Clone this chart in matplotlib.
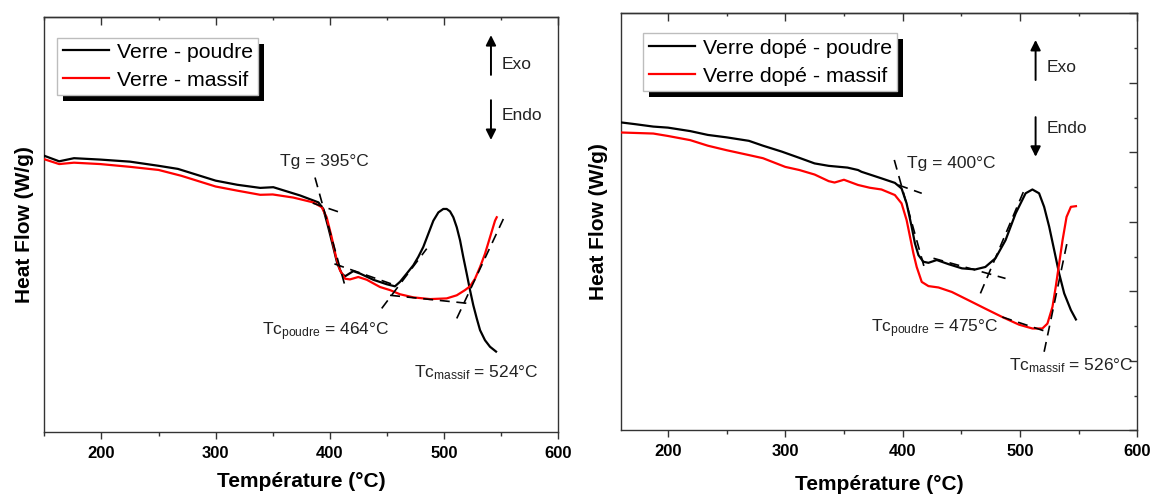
import matplotlib
matplotlib.use("Agg")
import matplotlib.pyplot as plt
from matplotlib.ticker import MultipleLocator, NullLocator
from matplotlib.patches import Rectangle
from matplotlib.transforms import IdentityTransform

plt.rcParams['font.family'] = ['Liberation Sans', 'DejaVu Sans']
plt.rcParams['mathtext.fontset'] = 'custom'
plt.rcParams['mathtext.rm'] = 'Liberation Sans'
plt.rcParams['mathtext.it'] = 'Liberation Sans:italic'

# ---------------- data: left panel (Verre) ----------------
left_T_poudre = [150, 163, 176, 199, 225, 250, 267, 300, 319, 339, 350.5, 374, 390, 394.3,
                 398.6, 403, 406.5, 410.4, 413.3, 420.5, 426.4, 438, 449.8, 457, 461.4,
                 467.3, 473.1, 477.4, 481.8, 486.2, 490.6, 495, 499.3, 502.3, 505.2, 508.1,
                 511.1, 514, 516.8, 519.8, 522.7, 525.6, 528.6, 531.5, 535.8, 540.2, 545.5]
left_HF_poudre = [7.99, 7.83, 7.92, 7.88, 7.82, 7.70, 7.61, 7.27, 7.15, 7.06, 7.08, 6.84, 6.64,
                  6.45, 5.92, 5.34, 4.87, 4.58, 4.50, 4.65, 4.58, 4.40, 4.27, 4.21, 4.34,
                  4.58, 4.82, 5.06, 5.35, 5.73, 6.11, 6.35, 6.45, 6.45, 6.38, 6.21,
                  5.92, 5.54, 5.06, 4.58, 4.10, 3.66, 3.28, 2.94, 2.65, 2.46, 2.32]
left_T_massif = [150, 163, 176, 199, 225, 250, 270, 300, 319, 339, 350, 368, 385.5, 392.9,
                 397.2, 401.6, 405.4, 408.9, 413.3, 417.6, 424.9, 432.3, 443.9, 452.7, 461.4,
                 473.1, 487.7, 502.3, 511.1, 518.3, 522.7, 527.1, 531.5, 535.8, 540.2,
                 544.6, 546.1]
left_HF_massif = [7.89, 7.75, 7.79, 7.75, 7.67, 7.58, 7.41, 7.10, 6.98, 6.86, 6.87, 6.78, 6.64,
                  6.50, 6.21, 5.63, 5.06, 4.67, 4.43, 4.41, 4.48, 4.40, 4.19, 4.10, 3.98,
                  3.89, 3.84, 3.86, 3.95, 4.10, 4.21, 4.43, 4.77, 5.15, 5.63,
                  6.11, 6.21]
# tangent construction lines: (T0, HF0, T1, HF1)
left_tangents = [(387.0, 7.36, 414.1, 4.12),
                 (385.0, 6.62, 409.0, 6.35),
                 (404.0, 4.86, 459.0, 4.22),
                 (445.4, 3.57, 484.8, 5.30),
                 (452.7, 3.95, 522.7, 3.71),
                 (511.1, 3.28, 551.9, 6.16)]
left_labels = ["Verre - poudre", "Verre - massif"]
left_notes = [("Tg = 395°C", 356.4, 7.69),
              (r"Tc$_{\mathrm{poudre}}$ = 464°C", 340.3, 2.80),
              (r"Tc$_{\mathrm{massif}}$ = 524°C", 473.7, 1.58)]

# ---------------- data: right panel (Verre dopé) ----------------
right_T_poudre = [160, 172, 187.5, 200, 219, 234, 250, 269, 281, 297, 312, 325, 337, 353, 362,
                  364.9, 382, 393.4, 399.1, 403.4, 407.7, 410.5, 413.5, 417.7, 422, 429.1,
                  439.2, 450.6, 462, 470.5, 479.1, 487.7, 496.3, 504.8, 510.6, 516.3, 520.6,
                  524.9, 529.2, 533.4, 537.7, 543.4, 547.7]
right_HF_poudre = [8.86, 8.81, 8.74, 8.71, 8.61, 8.50, 8.43, 8.33, 8.19, 8.02, 7.84, 7.68, 7.61,
                   7.56, 7.49, 7.44, 7.25, 7.12, 6.96, 6.53, 5.86, 5.38, 5.04, 4.85, 4.82, 4.90,
                   4.78, 4.66, 4.63, 4.70, 4.95, 5.47, 6.24, 6.82, 6.93, 6.82, 6.43,
                   5.86, 5.18, 4.51, 3.94, 3.46, 3.19]
right_T_massif = [160, 187.5, 200, 219, 234, 250, 269, 281, 300, 312, 325, 337, 342, 350, 362,
                  372, 382, 393.4, 399.1, 403.4, 406.3, 409.2, 412, 416.3, 422, 430.6, 442,
                  456.3, 470.5, 484.9, 499.2, 510.6, 519.1, 523.4, 527.7, 530.5, 533.4, 536.3,
                  539.7, 543.4, 547.7]
right_HF_massif = [8.57, 8.54, 8.47, 8.35, 8.19, 8.06, 7.92, 7.83, 7.58, 7.49, 7.36, 7.17, 7.13,
                   7.21, 7.06, 6.98, 6.93, 6.77, 6.53, 6.05, 5.57, 5.09, 4.70, 4.27, 4.15, 4.11,
                   3.98, 3.74, 3.50, 3.26, 3.04, 2.93, 2.93, 3.07, 3.55, 4.13, 4.80, 5.47,
                   6.14, 6.43, 6.45]
right_tangents = [(392.9, 7.78, 419.1, 4.61),
                  (396.3, 7.06, 416.3, 6.82),
                  (426.3, 4.95, 487.7, 4.37),
                  (466.3, 3.94, 504.8, 7.01),
                  (484.9, 3.26, 523.4, 2.83),
                  (520.6, 2.26, 540.6, 5.47)]
right_labels = ["Verre dopé - poudre", "Verre dopé - massif"]
right_notes = [("Tg = 400°C", 403.4, 7.54),
               (r"Tc$_{\mathrm{poudre}}$ = 475°C", 372.8, 2.83),
               (r"Tc$_{\mathrm{massif}}$ = 526°C", 490.6, 1.73)]

fig = plt.figure(figsize=(11.55, 4.94), dpi=100)
W, H = 1155, 494

def make_panel(rect, xlim, Tp, HFp, Tm, HFm, tangents, labels, notes,
               leg_anchor, arrow_x, exo_y, endo_y, txt_x, exo_txt_y, endo_txt_y,
               ylab_x, xlab_y, right_ticks):
    ax = fig.add_axes(rect)
    ax.plot(Tp, HFp, color='black', lw=1.6, label=labels[0], zorder=3,
            solid_joinstyle='round')
    ax.plot(Tm, HFm, color='#ff0000', lw=1.6, label=labels[1], zorder=3,
            solid_joinstyle='round')
    for (t0, h0, t1, h1) in tangents:
        ax.plot([t0, t1], [h0, h1], color='black', lw=1.2,
                linestyle=(0, (6, 4)), zorder=4)
    ax.set_xlim(*xlim)
    ax.set_ylim(0, 12)
    ax.xaxis.set_major_locator(MultipleLocator(100))
    ax.xaxis.set_minor_locator(MultipleLocator(50))
    ax.tick_params(axis='x', which='both', direction='out', width=1.0, color='#333333')
    ax.tick_params(axis='x', which='major', length=5, pad=5, labelsize=12)
    ax.tick_params(axis='x', which='minor', length=3)
    for lbl in ax.get_xticklabels():
        lbl.set_fontweight('bold')
    if right_ticks:
        ax.yaxis.set_major_locator(MultipleLocator(2))
        ax.yaxis.set_minor_locator(MultipleLocator(1))
        ax.yaxis.set_ticks_position('right')
        ax.tick_params(axis='y', which='both', direction='in', labelright=False,
                       labelleft=False, width=1.0, color='#333333')
        ax.tick_params(axis='y', which='major', length=5.5)
        ax.tick_params(axis='y', which='minor', length=2.5)
    else:
        ax.yaxis.set_major_locator(NullLocator())
        ax.yaxis.set_minor_locator(NullLocator())
    sec = ax.secondary_xaxis('top')
    sec.xaxis.set_major_locator(MultipleLocator(100))
    sec.xaxis.set_minor_locator(MultipleLocator(50))
    sec.tick_params(axis='x', which='both', direction='in', labeltop=False,
                    width=1.0, color='#333333')
    sec.tick_params(axis='x', which='major', length=5.5)
    sec.tick_params(axis='x', which='minor', length=2.5)
    for s in sec.spines.values():
        s.set_linewidth(1.0)
        s.set_color('#333333')
    for s in ax.spines.values():
        s.set_linewidth(1.0)
        s.set_color('#333333')

    ax.set_xlabel("Température (°C)", fontsize=15, fontweight='bold')
    ax.xaxis.set_label_coords(0.5, xlab_y)
    ax.set_ylabel("Heat Flow (W/g)", fontsize=15, fontweight='bold')
    ax.yaxis.set_label_coords(ylab_x, 0.5)

    leg = ax.legend(loc='upper left', bbox_to_anchor=leg_anchor, borderaxespad=0,
                    fontsize=15.3, frameon=True, fancybox=False, handlelength=2.2,
                    handletextpad=0.35, borderpad=0.25, labelspacing=0.42,
                    framealpha=1.0, facecolor='white')
    leg.get_frame().set_edgecolor('#bdbdbd')
    leg.get_frame().set_linewidth(1.0)
    leg.set_zorder(6)

    # Exo / Endo
    ax.annotate("", xy=(arrow_x, exo_y[1]), xytext=(arrow_x, exo_y[0]),
                xycoords='axes fraction',
                arrowprops=dict(arrowstyle='-|>', color='black', lw=1.4,
                                mutation_scale=15, shrinkA=0, shrinkB=0))
    ax.annotate("", xy=(arrow_x, endo_y[1]), xytext=(arrow_x, endo_y[0]),
                xycoords='axes fraction',
                arrowprops=dict(arrowstyle='-|>', color='black', lw=1.4,
                                mutation_scale=15, shrinkA=0, shrinkB=0))
    ax.text(txt_x, exo_txt_y, "Exo", transform=ax.transAxes, fontsize=12.5,
            ha='left', va='center', color='#222222')
    ax.text(txt_x, endo_txt_y, "Endo", transform=ax.transAxes, fontsize=12.5,
            ha='left', va='center', color='#222222')

    for (txt, t, h) in notes:
        ax.text(t, h, txt, fontsize=12.5, ha='left', va='baseline',
                color='#222222', zorder=5, clip_on=False)
    return ax, leg

axL, legL = make_panel([44.3 / W, 1 - 431.7 / H, 514 / W, 414.4 / H], (150, 600),
                       left_T_poudre, left_HF_poudre, left_T_massif, left_HF_massif,
                       left_tangents, left_labels, left_notes,
                       (0.0253, 0.951), 0.869, (0.861, 0.957), (0.800, 0.704),
                       0.890, 0.885, 0.764, -0.020, -0.097, False)
axR, legR = make_panel([621 / W, 1 - 430.3 / H, 516.3 / W, 417 / H], (160, 600),
                       right_T_poudre, right_HF_poudre, right_T_massif, right_HF_massif,
                       right_tangents, right_labels, right_notes,
                       (0.0432, 0.952), 0.803, (0.840, 0.936), (0.751, 0.656),
                       0.824, 0.870, 0.724, -0.026, -0.108, True)

# black drop shadow behind each legend
fig.canvas.draw()
for ax, leg in ((axL, legL), (axR, legR)):
    bb = leg.get_window_extent()
    shadow = Rectangle((bb.x0 + 6, bb.y0 - 6), bb.width, bb.height,
                       transform=IdentityTransform(), facecolor='black',
                       edgecolor='none', zorder=5.5, clip_on=False)
    ax.add_artist(shadow)

fig.savefig("out.png", dpi=100)
